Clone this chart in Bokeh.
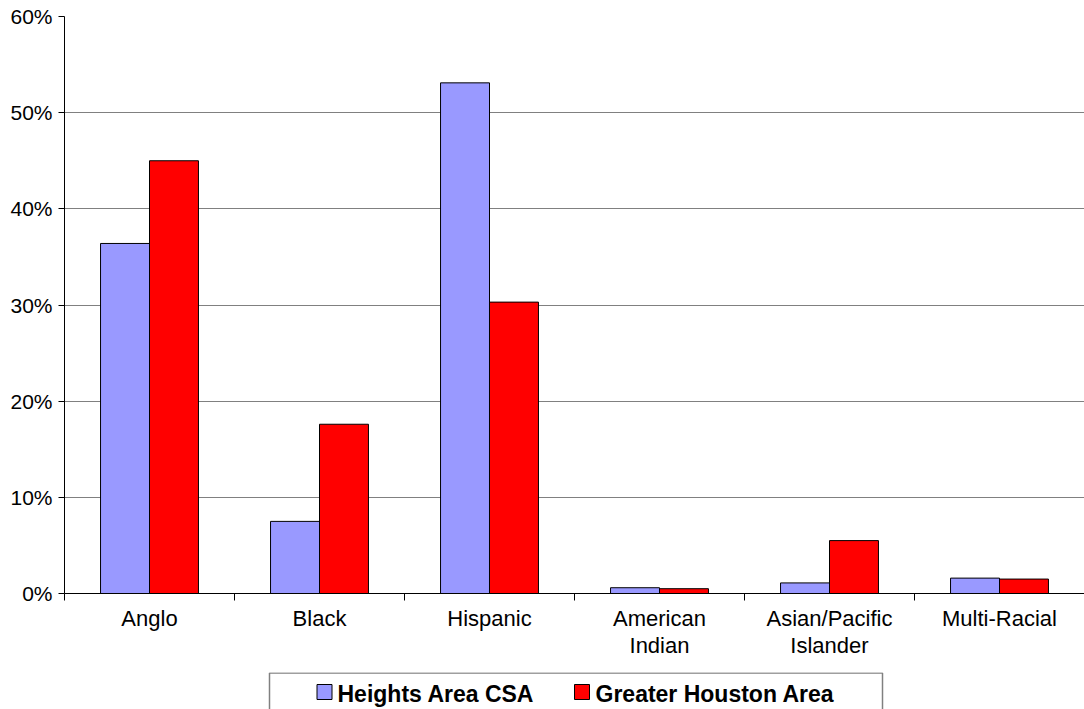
from bokeh.plotting import figure
from bokeh.models import Range1d, FixedTicker, PrintfTickFormatter
from bokeh.layouts import column
from bokeh.core.properties import value
from bokeh.embed import file_html
from bokeh.resources import INLINE

categories = ["Anglo", "Black", "Hispanic", "American\nIndian", "Asian/Pacific\nIslander", "Multi-Racial"]
heights_area = [36.4, 7.5, 53.1, 0.6, 1.1, 1.6]
greater_houston = [45.0, 17.6, 30.3, 0.5, 5.5, 1.5]
series_names = ["Heights Area CSA", "Greater Houston Area"]
series_colors = ["#9999FF", "#FF0000"]
y_ticks = [0, 10, 20, 30, 40, 50, 60]

FONT = "Liberation Sans"
n = len(categories)
bar_w = 0.288

p = figure(width=1084, height=672, x_range=Range1d(0, n), y_range=Range1d(0, 60),
           toolbar_location=None, output_backend="svg",
           min_border_left=64, min_border_right=0, min_border_top=16, min_border_bottom=79)
p.outline_line_color = None
p.background_fill_color = "white"

idx = list(range(n))
x1 = [i + 0.5 - bar_w / 2 for i in idx]
x2 = [i + 0.5 + bar_w / 2 for i in idx]
p.vbar(x=x1, top=heights_area, width=bar_w, bottom=0, fill_color=series_colors[0],
       line_color="black", line_width=1)
p.vbar(x=x2, top=greater_houston, width=bar_w, bottom=0, fill_color=series_colors[1],
       line_color="black", line_width=1)

# x axis
xa = p.xaxis[0]
xa.ticker = FixedTicker(ticks=[i + 0.5 for i in idx], minor_ticks=list(range(n + 1)))
xa.major_label_overrides = {i + 0.5: categories[i] for i in idx}
xa.major_tick_line_color = None
xa.major_tick_out = 0
xa.major_tick_in = 0
xa.minor_tick_line_color = "black"
xa.minor_tick_out = 7
xa.minor_tick_in = 0
xa.axis_line_color = "black"
xa.major_label_text_font = FONT
xa.major_label_text_font_size = "22px"
xa.major_label_text_color = "black"
xa.major_label_text_line_height = 1.1
xa.major_label_standoff = 5

# y axis
ya = p.yaxis[0]
ya.ticker = FixedTicker(ticks=y_ticks, minor_ticks=[])
ya.formatter = PrintfTickFormatter(format="%d%%")
ya.major_tick_out = 6
ya.major_tick_in = 0
ya.major_tick_line_color = "black"
ya.minor_tick_line_color = None
ya.axis_line_color = "black"
ya.major_label_text_font = FONT
ya.major_label_text_font_size = "21px"
ya.major_label_text_color = "black"
ya.major_label_standoff = 6

p.xgrid.visible = False
p.ygrid.grid_line_color = "#808080"
p.ygrid.grid_line_width = 1

# legend panel (frame aligned with main plot frame; 1 data unit = 1 px)
leg = figure(width=1084, height=37, x_range=Range1d(0, 1020), y_range=Range1d(0, 37),
             toolbar_location=None, output_backend="svg", x_axis_type=None, y_axis_type=None,
             min_border_left=64, min_border_right=0, min_border_top=0, min_border_bottom=0)
leg.grid.visible = False
leg.outline_line_color = None
leg.line(x=[205, 205, 818, 818], y=[0, 36.5, 36.5, 0], line_color="#808080", line_width=1.5)
leg.rect(x=[260, 517.5], y=[17.5, 17.5], width=15, height=15, width_units="screen",
         height_units="screen", fill_color=series_colors, line_color="black", line_width=1)
leg.text(x=[273, 531], y=[16, 16], text=series_names, text_font=value(FONT), text_font_size="23px",
         text_font_style="bold", text_baseline="middle", text_align="left", text_color="black")

layout = column(p, leg)
open("out.html", "w").write(file_html(layout, INLINE))
